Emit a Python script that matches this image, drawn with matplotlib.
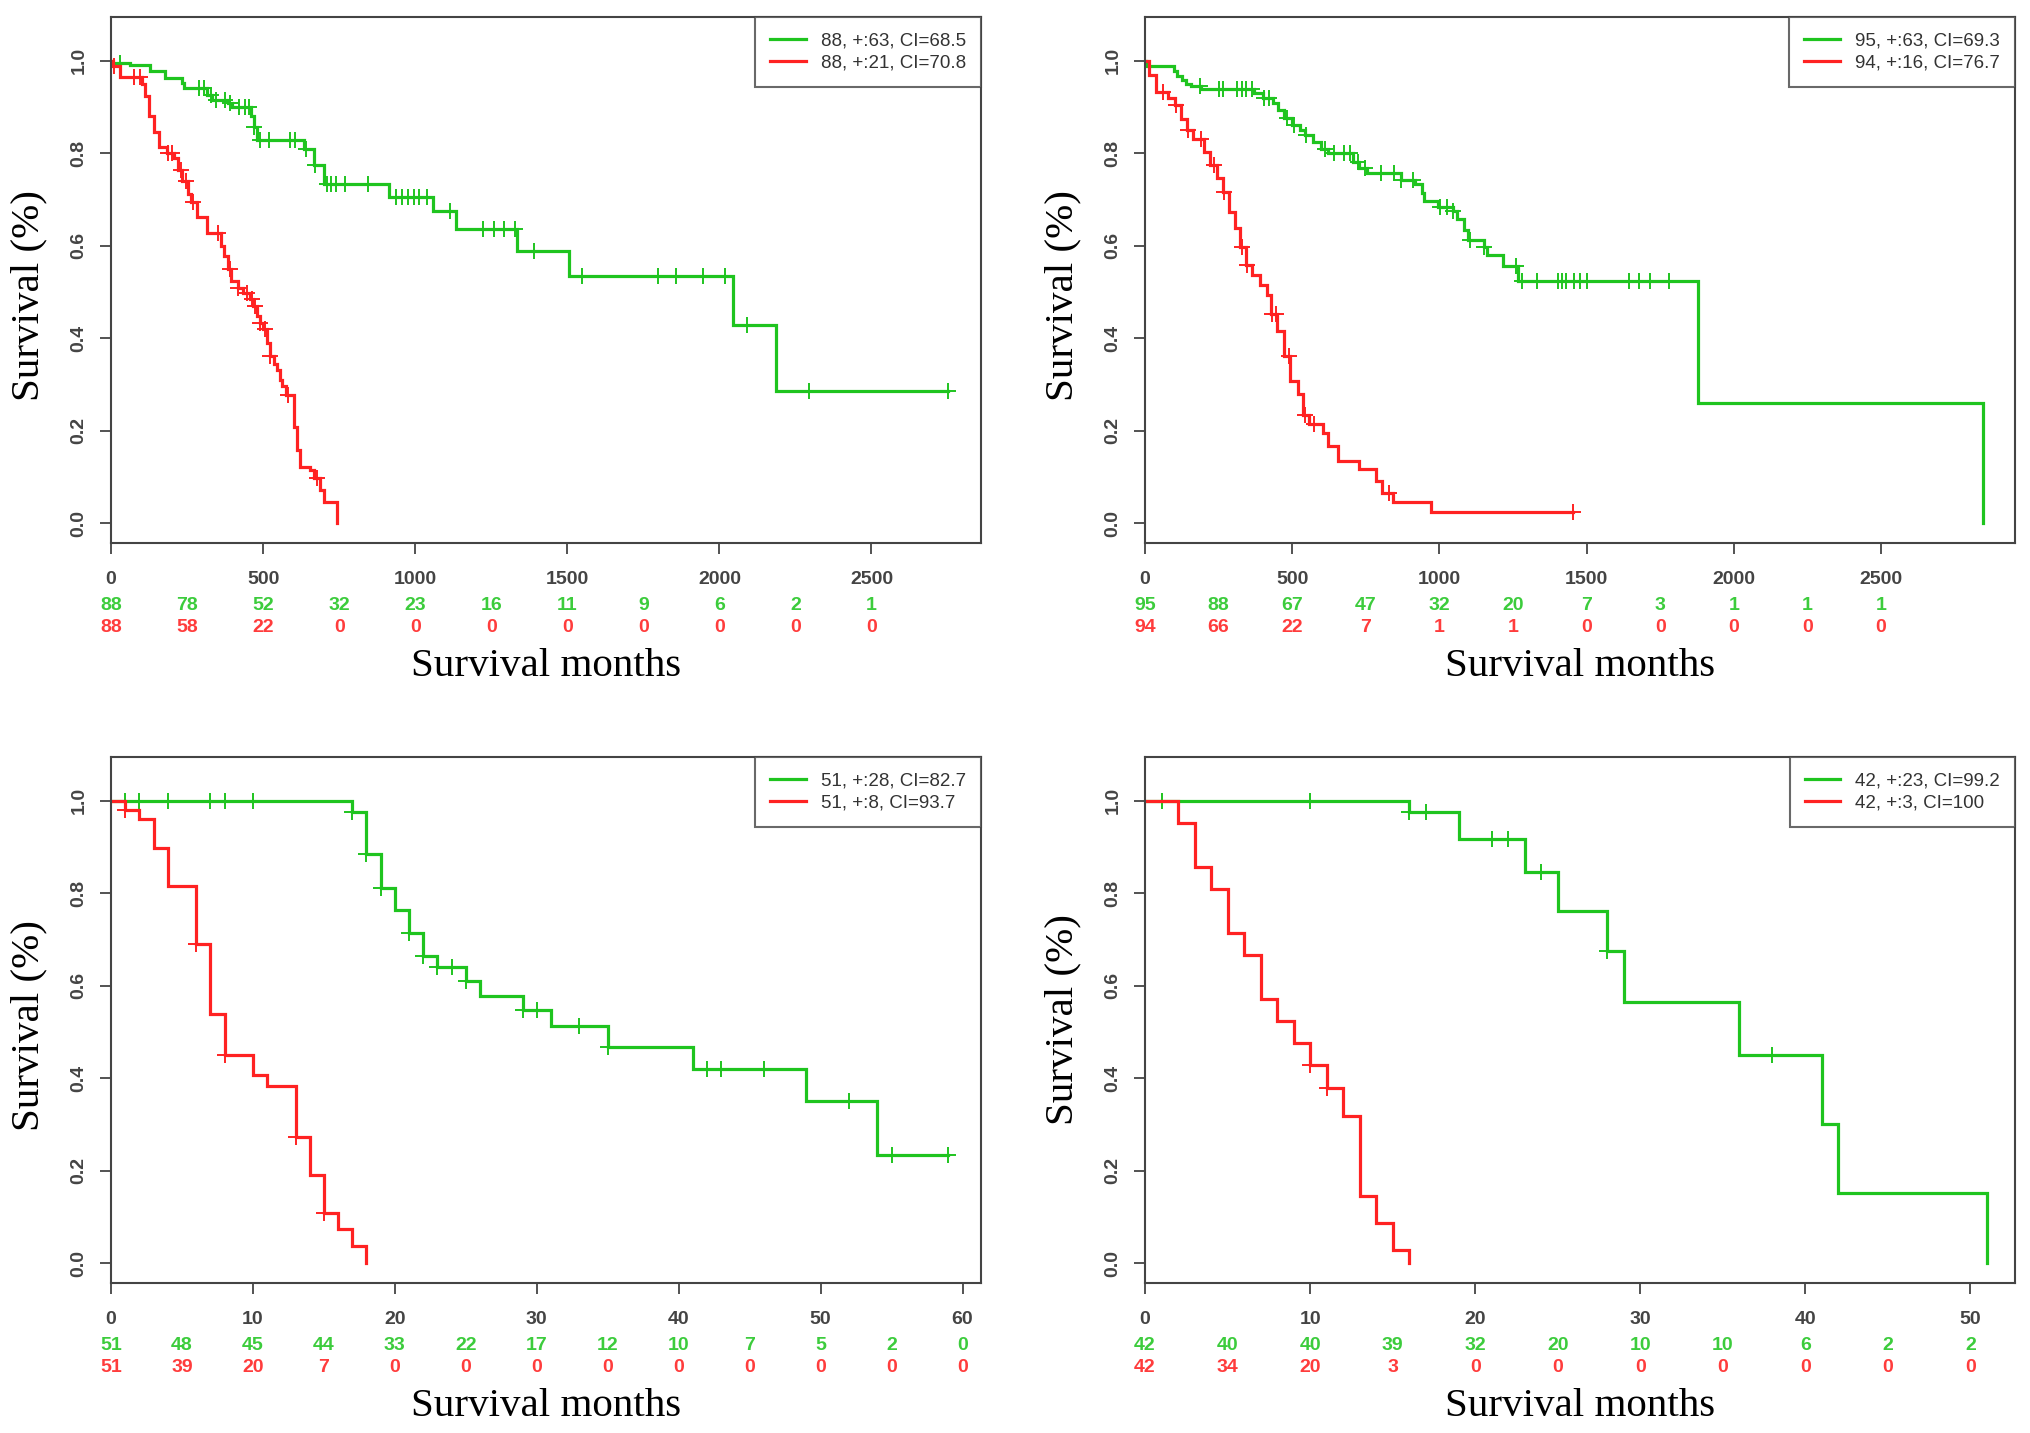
import numpy as np
import matplotlib
matplotlib.use('Agg')
import matplotlib.pyplot as plt

## panel 1 (top left)
p1_green_t = [3, 63, 128, 176, 233, 240, 315, 331, 384, 397, 460, 470, 479, 636, 668, 699, 913, 1058, 1134, 1335, 1505, 2045, 2187]
p1_green_s = [0.995, 0.991, 0.978, 0.964, 0.953, 0.941, 0.927, 0.916, 0.910, 0.900, 0.880, 0.856, 0.828, 0.810, 0.774, 0.734, 0.705, 0.675, 0.637, 0.589, 0.534, 0.429, 0.286]
p1_green_end = 2750
p1_green_cens = [31, 290, 305, 330, 345, 375, 392, 420, 440, 455, 471, 490, 520, 590, 605, 642, 671, 711, 722, 740, 768,
                 844, 938, 958, 975, 995, 1012, 1039, 1115, 1222, 1260, 1291, 1329, 1392, 1549, 1798, 1857, 1947, 2017,
                 2091, 2294, 2750]
p1_red_t = [6, 31, 101, 113, 126, 142, 157, 183, 208, 220, 233, 252, 264, 283, 315, 362, 372, 386, 395, 419, 435, 457,
            468, 480, 490, 501, 512, 523, 535, 545, 556, 562, 575, 600, 611, 622, 655, 666, 688, 699, 742]
p1_red_s = [0.989, 0.966, 0.950, 0.925, 0.880, 0.846, 0.813, 0.800, 0.790, 0.763, 0.741, 0.713, 0.695, 0.662, 0.627,
            0.600, 0.578, 0.550, 0.523, 0.509, 0.498, 0.484, 0.469, 0.448, 0.433, 0.419, 0.390, 0.361, 0.345, 0.332,
            0.310, 0.296, 0.278, 0.209, 0.158, 0.122, 0.115, 0.097, 0.072, 0.046, 0.0]
p1_red_end = 742
p1_red_cens = [10, 76, 94, 189, 201, 230, 246, 270, 353, 391, 419, 446, 463, 474, 490, 506, 523, 583, 676]
p1_risk_t = [0, 250, 500, 750, 1000, 1250, 1500, 1750, 2000, 2250, 2500]
p1_risk_green = [88, 78, 52, 32, 23, 16, 11, 9, 6, 2, 1]
p1_risk_red = [88, 58, 22, 0, 0, 0, 0, 0, 0, 0, 0]
p1_xticks = [0, 500, 1000, 1500, 2000, 2500]
p1_legend = ['88, +:63, CI=68.5', '88, +:21, CI=70.8']

## panel 2 (top right)
p2_green_t = [3, 97, 110, 125, 140, 155, 190, 369, 402, 434, 453, 473, 499, 525, 545, 571, 597, 623, 707, 727, 753, 871,
              916, 942, 949, 994, 1046, 1059, 1085, 1098, 1150, 1163, 1215, 1267, 1877, 2845]
p2_green_s = [0.990, 0.979, 0.968, 0.958, 0.951, 0.945, 0.939, 0.930, 0.919, 0.908, 0.894, 0.876, 0.861, 0.850, 0.840,
              0.825, 0.810, 0.800, 0.782, 0.768, 0.757, 0.743, 0.733, 0.715, 0.697, 0.683, 0.676, 0.659, 0.634, 0.612,
              0.598, 0.581, 0.556, 0.524, 0.260, 0.0]
p2_green_end = 2845
p2_green_cens = [188, 253, 266, 312, 331, 344, 364, 403, 422, 481, 507, 546, 611, 643, 676, 696, 722, 748, 800, 845, 871,
                 910, 1001, 1027, 1046, 1105, 1150, 1261, 1281, 1333, 1404, 1417, 1430, 1456, 1476, 1502, 1645, 1677,
                 1716, 1781]
p2_red_t = [12, 38, 77, 103, 123, 142, 162, 201, 220, 246, 266, 285, 304, 324, 343, 363, 389, 415, 428, 447, 473, 493,
            519, 538, 558, 603, 623, 655, 726, 785, 804, 843, 973]
p2_red_s = [0.969, 0.933, 0.919, 0.904, 0.875, 0.850, 0.832, 0.804, 0.775, 0.746, 0.717, 0.674, 0.638, 0.598, 0.559,
            0.537, 0.516, 0.494, 0.452, 0.416, 0.361, 0.307, 0.279, 0.235, 0.214, 0.196, 0.167, 0.135, 0.117, 0.092,
            0.066, 0.045, 0.023]
p2_red_end = 1455
p2_red_cens = [60, 105, 145, 190, 235, 270, 330, 345, 430, 445, 490, 545, 575, 830, 1455]
p2_risk_t = [0, 250, 500, 750, 1000, 1250, 1500, 1750, 2000, 2250, 2500]
p2_risk_green = [95, 88, 67, 47, 32, 20, 7, 3, 1, 1, 1]
p2_risk_red = [94, 66, 22, 7, 1, 1, 0, 0, 0, 0, 0]
p2_xticks = [0, 500, 1000, 1500, 2000, 2500]
p2_legend = ['95, +:63, CI=69.3', '94, +:16, CI=76.7']

## panel 3 (bottom left)
p3_green_t = [17, 18, 19, 20, 21, 22, 23, 25, 26, 29, 31, 35, 41, 49, 54]
p3_green_s = [0.977, 0.885, 0.812, 0.764, 0.715, 0.665, 0.640, 0.610, 0.578, 0.548, 0.512, 0.468, 0.420, 0.351, 0.234]
p3_green_end = 59
p3_green_cens = [1, 2, 4, 7, 8, 10, 17, 18, 19, 21, 22, 23, 24, 25, 29, 30, 33, 35, 42, 43, 46, 52, 55, 59]
p3_red_t = [1, 2, 3, 4, 6, 7, 8, 10, 11, 13, 14, 15, 16, 17, 18]
p3_red_s = [0.980, 0.960, 0.898, 0.815, 0.690, 0.538, 0.451, 0.407, 0.384, 0.272, 0.190, 0.109, 0.073, 0.036, 0.0]
p3_red_end = 18
p3_red_cens = [1, 6, 8, 13, 15]
p3_risk_t = [0, 5, 10, 15, 20, 25, 30, 35, 40, 45, 50, 55, 60]
p3_risk_green = [51, 48, 45, 44, 33, 22, 17, 12, 10, 7, 5, 2, 0]
p3_risk_red = [51, 39, 20, 7, 0, 0, 0, 0, 0, 0, 0, 0, 0]
p3_xticks = [0, 10, 20, 30, 40, 50, 60]
p3_legend = ['51, +:28, CI=82.7', '51, +:8, CI=93.7']

## panel 4 (bottom right)
p4_green_t = [16, 19, 23, 25, 28, 29, 36, 41, 42, 51]
p4_green_s = [0.976, 0.918, 0.847, 0.762, 0.676, 0.564, 0.451, 0.301, 0.151, 0.0]
p4_green_end = 51
p4_green_cens = [1, 10, 16, 17, 21, 22, 24, 28, 38]
p4_red_t = [2, 3, 4, 5, 6, 7, 8, 9, 10, 11, 12, 13, 14, 15, 16]
p4_red_s = [0.952, 0.857, 0.809, 0.714, 0.666, 0.571, 0.523, 0.476, 0.428, 0.378, 0.318, 0.145, 0.087, 0.029, 0.0]
p4_red_end = 16
p4_red_cens = [10, 11]
p4_risk_t = [0, 5, 10, 15, 20, 25, 30, 35, 40, 45, 50]
p4_risk_green = [42, 40, 40, 39, 32, 20, 10, 10, 6, 2, 2]
p4_risk_red = [42, 34, 20, 3, 0, 0, 0, 0, 0, 0, 0]
p4_xticks = [0, 10, 20, 30, 40, 50]
p4_legend = ['42, +:23, CI=99.2', '42, +:3, CI=100']

GREEN = '#1fc41f'
RED = '#ff2222'
RISK_GREEN = '#3ccc3c'
RISK_RED = '#ff3c3c'
AXC = '#444444'
SANS = 'Liberation Sans'
SERIF = 'Liberation Serif'
PX = 0.72  # points per pixel at dpi 100


def km_curve(ax, t, s, end, cens, color, label):
    x = np.concatenate([[0], t, [end]])
    y = np.concatenate([[1.0], s, [s[-1]]])
    ax.step(x, y, where='post', color=color, lw=2.3, label=label, solid_joinstyle='miter')
    # censor ticks sit on the curve
    tt = np.concatenate([[0], t])
    ss = np.concatenate([[1.0], s])
    idx = np.searchsorted(tt, cens, side='right') - 1
    ax.plot(cens, ss[idx], '+', color=color, ms=11, mew=1.4, ls='none')


def panel(ax, green, red, risk_t, risk_g, risk_r, xticks, xmax, legend, ylab_y):
    km_curve(ax, *green, GREEN, legend[0])
    km_curve(ax, *red, RED, legend[1])

    ax.set_xlim(0, xmax)
    ax.set_ylim(-0.043, 1.095)
    ax.set_xticks(xticks)
    ax.set_yticks([0.0, 0.2, 0.4, 0.6, 0.8, 1.0])
    ax.set_yticklabels(['0.0', '0.2', '0.4', '0.6', '0.8', '1.0'])
    for sp in ax.spines.values():
        sp.set_color(AXC)
        sp.set_linewidth(1.5)
    ax.tick_params(axis='both', direction='out', length=8, width=1.3, color=AXC,
                   labelcolor=AXC, labelsize=14)
    ax.tick_params(axis='x', pad=12)
    ax.tick_params(axis='y', pad=9)
    for lab in ax.get_xticklabels() + ax.get_yticklabels():
        lab.set_family(SANS)
        lab.set_fontweight('bold')
    for lab in ax.get_yticklabels():
        lab.set_rotation(90)
        lab.set_va('center')

    # numbers at risk under the axis
    for t, g, r in zip(risk_t, risk_g, risk_r):
        ax.annotate(str(g), xy=(t, 0), xycoords=('data', 'axes fraction'), xytext=(0, -62 * PX),
                    textcoords='offset points', ha='center', va='center', fontsize=14, color=RISK_GREEN,
                    family=SANS, fontweight='bold', annotation_clip=False)
        ax.annotate(str(r), xy=(t, 0), xycoords=('data', 'axes fraction'), xytext=(0, -84 * PX),
                    textcoords='offset points', ha='center', va='center', fontsize=14, color=RISK_RED,
                    family=SANS, fontweight='bold', annotation_clip=False)

    ax.annotate('Survival months', xy=(0.5, 0), xycoords='axes fraction', xytext=(0, -123 * PX),
                textcoords='offset points', ha='center', va='center', fontsize=29.5, family=SERIF)
    ax.annotate('Survival (%)', xy=(0, ylab_y), xycoords='axes fraction', xytext=(-82 * PX, 0),
                textcoords='offset points', ha='center', va='center', fontsize=29.5, family=SERIF, rotation=90)

    leg = ax.legend(loc='upper right', borderaxespad=0, fancybox=False, handlelength=1.9,
                    handletextpad=0.8, borderpad=0.8, labelspacing=0.3, prop={'family': SANS, 'size': 13.5})
    leg.get_frame().set_edgecolor(AXC)
    leg.get_frame().set_linewidth(1.5)
    for txt in leg.get_texts():
        txt.set_color('#333333')


fig = plt.figure(figsize=(20.31, 14.33), dpi=100)
W, H = 2031.0, 1433.0
ax1 = fig.add_axes([111 / W, 1 - 543 / H, 870 / W, 526 / H])
ax2 = fig.add_axes([1145 / W, 1 - 543 / H, 870 / W, 526 / H])
ax3 = fig.add_axes([111 / W, 1 - 1283 / H, 870 / W, 526 / H])
ax4 = fig.add_axes([1145 / W, 1 - 1283 / H, 870 / W, 526 / H])

panel(ax1, (p1_green_t, p1_green_s, p1_green_end, p1_green_cens), (p1_red_t, p1_red_s, p1_red_end, p1_red_cens),
      p1_risk_t, p1_risk_green, p1_risk_red, p1_xticks, 2860, p1_legend, 0.47)
panel(ax2, (p2_green_t, p2_green_s, p2_green_end, p2_green_cens), (p2_red_t, p2_red_s, p2_red_end, p2_red_cens),
      p2_risk_t, p2_risk_green, p2_risk_red, p2_xticks, 2955, p2_legend, 0.47)
panel(ax3, (p3_green_t, p3_green_s, p3_green_end, p3_green_cens), (p3_red_t, p3_red_s, p3_red_end, p3_red_cens),
      p3_risk_t, p3_risk_green, p3_risk_red, p3_xticks, 61.3, p3_legend, 0.49)
panel(ax4, (p4_green_t, p4_green_s, p4_green_end, p4_green_cens), (p4_red_t, p4_red_s, p4_red_end, p4_red_cens),
      p4_risk_t, p4_risk_green, p4_risk_red, p4_xticks, 52.7, p4_legend, 0.50)

fig.savefig('out.png', dpi=100)
